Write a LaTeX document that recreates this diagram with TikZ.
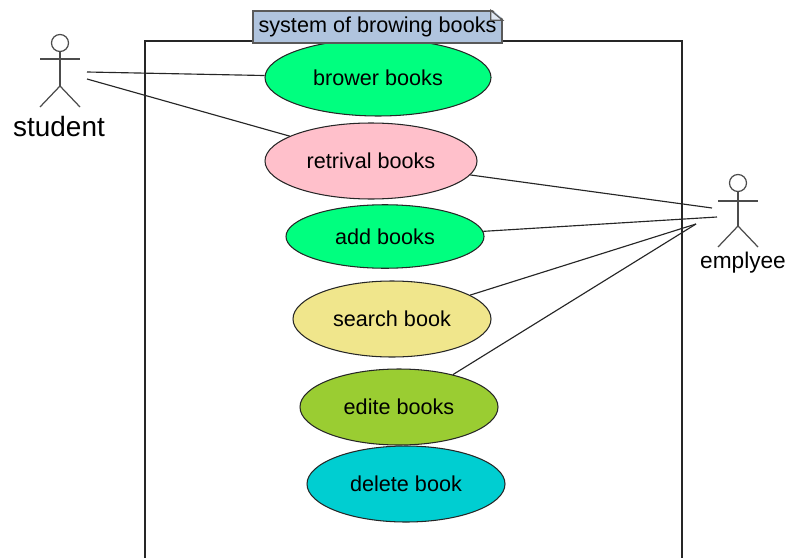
\documentclass[tikz,border=0pt]{standalone}
\usepackage{fontspec}
\setmainfont{Liberation Sans}
\usetikzlibrary{shapes.geometric}

\definecolor{springgreen}{HTML}{00FF7F}
\definecolor{pinkcase}{HTML}{FFC0CB}
\definecolor{khakicase}{HTML}{F0E68C}
\definecolor{yellowgreencase}{HTML}{9ACD32}
\definecolor{turquoisecase}{HTML}{00CED1}
\definecolor{notecolor}{HTML}{B0C4DE}

\tikzset{
    usecase/.style={draw=black!85, ellipse, inner sep=0pt, line width=0.6pt,
        font=\fontsize{12.3}{14}\selectfont},
    actorline/.style={draw=black!70, line width=0.7pt},
    assoc/.style={draw=black!85, line width=0.65pt},
    actorfig/.pic={
        \node[actorline, circle, inner sep=0pt, minimum size=0.34cm] (-head) at (0,0) {};
        \draw[actorline] (-head.south) -- (0,-0.86);
        \draw[actorline] (-0.4,#1) -- (0.4,#1);
        \draw[actorline] (-0.4,-1.28) -- (0,-0.86) -- (0.4,-1.28);
    }
}

\begin{document}
\begin{tikzpicture}
        \useasboundingbox (0,0) rectangle (15.82,11.16);

        \draw[assoc] (2.9,0) -- (2.9,10.34) -- (13.64,10.34) -- (13.64,0);

        \node[usecase, fill=springgreen, minimum width=4.52cm, minimum height=1.54cm] (brower) at (7.56,9.61) {brower books};
        \node[usecase, fill=pinkcase, minimum width=4.24cm, minimum height=1.52cm] (retrival) at (7.42,7.94) {retrival books};
        \node[usecase, fill=springgreen, minimum width=3.96cm, minimum height=1.27cm] (add) at (7.70,6.43) {add books};
        \node[usecase, fill=khakicase, minimum width=3.96cm, minimum height=1.52cm] (search) at (7.84,4.78) {search book};
        \node[usecase, fill=yellowgreencase, minimum width=3.96cm, minimum height=1.52cm] (edite) at (7.98,3.02) {edite books};
        \node[usecase, fill=turquoisecase, minimum width=3.96cm, minimum height=1.52cm] (delete) at (8.12,1.48) {delete book};

        \node[draw=black!65, fill=notecolor, line width=0.8pt, inner sep=0pt, minimum width=4.98cm, minimum height=0.64cm,
            font=\fontsize{12.3}{14}\selectfont] (note) at (7.55,10.62) {system of browing books};
        \fill[white] ([shift={(-0.24,0.04)}]note.north east) -- ([shift={(0.04,0.04)}]note.north east) -- ([shift={(0.04,-0.2)}]note.north east) -- cycle;
        \draw[black!65, line width=0.7pt, fill=notecolor!40] ([xshift=-0.24cm]note.north east) -- ++(0,-0.2) -- ++(0.24,0) -- cycle;

        \pic (student) at (1.2,10.3) {actorfig=-0.32};
        \pic (emplyee) at (14.76,7.5) {actorfig=-0.36};
        \node[font=\fontsize{15.9}{18}\selectfont] (studentlabel) at (1.18,8.62) {student};
        \node[font=\fontsize{12.9}{15}\selectfont] (emplyeelabel) at (14.86,5.9) {emplyee};

        \coordinate (sa) at (1.74,9.72);
        \coordinate (sb) at (1.74,9.58);
        \coordinate (ea) at (14.24,7.0);
        \coordinate (eb) at (14.34,6.82);
        \coordinate (ec) at (13.92,6.68);

        \draw[assoc] (sa) -- (brower.179);
        \draw[assoc] (sb) -- (retrival.163.7);
        \draw[assoc] (retrival.-8.5) -- (ea);
        \draw[assoc] (add.3.5) -- (eb);
        \draw[assoc] (search.17) -- (ec);
        \draw[assoc] (edite.31) -- (ec);
    \end{tikzpicture}
\end{document}
